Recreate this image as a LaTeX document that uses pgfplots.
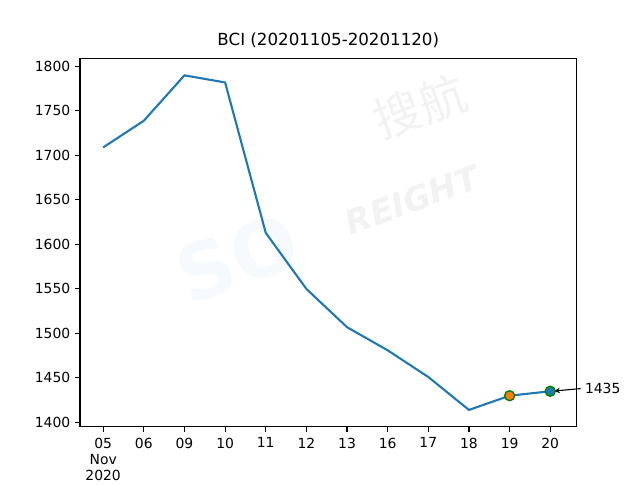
\documentclass[border=0pt]{standalone}
\usepackage{pgfplots}
\pgfplotsset{compat=1.18}
\usepackage{fontspec}
\setmainfont{DejaVu Sans}
\newfontfamily\cjk{Noto Sans CJK SC}
\definecolor{c0}{HTML}{1F77B4}
\definecolor{c1}{HTML}{FF7F0E}
\definecolor{edgegreen}{HTML}{008000}
\begin{document}
\begin{tikzpicture}[x=1pt,y=1pt]
\path (0,0) rectangle (460.8,345.6);
\begin{axis}[
  at={(57.6pt,38.4pt)}, anchor=south west,
  scale only axis, width=357.6pt, height=265.0pt,
  xmin=-0.57, xmax=11.65, ymin=1395.2, ymax=1808.8,
  xtick={0,1,2,3,4,5,6,7,8,9,10,11},
  xticklabels={{05\\Nov\\2020},06,09,10,11,12,13,16,17,18,19,20},
  xticklabel style={align=center, font=\fontsize{10}{11.5}\selectfont, anchor=north, yshift=-1pt},
  ytick={1400,1450,1500,1550,1600,1650,1700,1750,1800},
  yticklabel style={font=\fontsize{10}{12}\selectfont},
  /pgf/number format/assume math mode=true,
  /pgf/number format/1000 sep={},
  tick align=outside, xtick pos=bottom, ytick pos=left,
  major tick length=3.5pt,
  tick style={black, line width=0.8pt},
  axis line style={line width=0.8pt},
  title={BCI (20201105-20201120)},
  title style={font=\fontsize{12}{14}\selectfont, yshift=-2pt},
  clip=false,
]
\node[rotate=20, text=c0!4, font=\bfseries\fontsize{56}{56}\selectfont, inner sep=0pt] at (axis cs:3.3,1585) {SO};
\node[rotate=20, text=black!5, font=\cjk\fontsize{34}{34}\selectfont, inner sep=0pt] at (axis cs:7.8,1755) {搜航};
\node[rotate=20, text=black!5, font=\bfseries\itshape\fontsize{24}{24}\selectfont, inner sep=0pt] at (axis cs:7.6,1650) {REIGHT};
\addplot[c0, line width=1.5pt] coordinates {
(0,1709) (1,1739) (2,1790) (3,1782) (4,1613) (5,1550) (6,1507) (7,1481) (8,1451) (9,1414) (10,1430) (11,1435)
};
\addplot[only marks, mark=*, mark size=3.6pt, mark options={fill=c1, draw=edgegreen, line width=1pt}] coordinates {(10,1430)};
\addplot[only marks, mark=*, mark size=3.6pt, mark options={fill=c0, draw=edgegreen, line width=1pt}] coordinates {(11,1435)};
\draw[->, >=stealth, line width=0.8pt] (axis cs:11.75,1438) -- (axis cs:11.1,1435.3);
\node[anchor=west, font=\fontsize{10}{12}\selectfont, inner sep=0pt] at (axis cs:11.85,1438.5) {1435};
\end{axis}
\end{tikzpicture}
\end{document}
